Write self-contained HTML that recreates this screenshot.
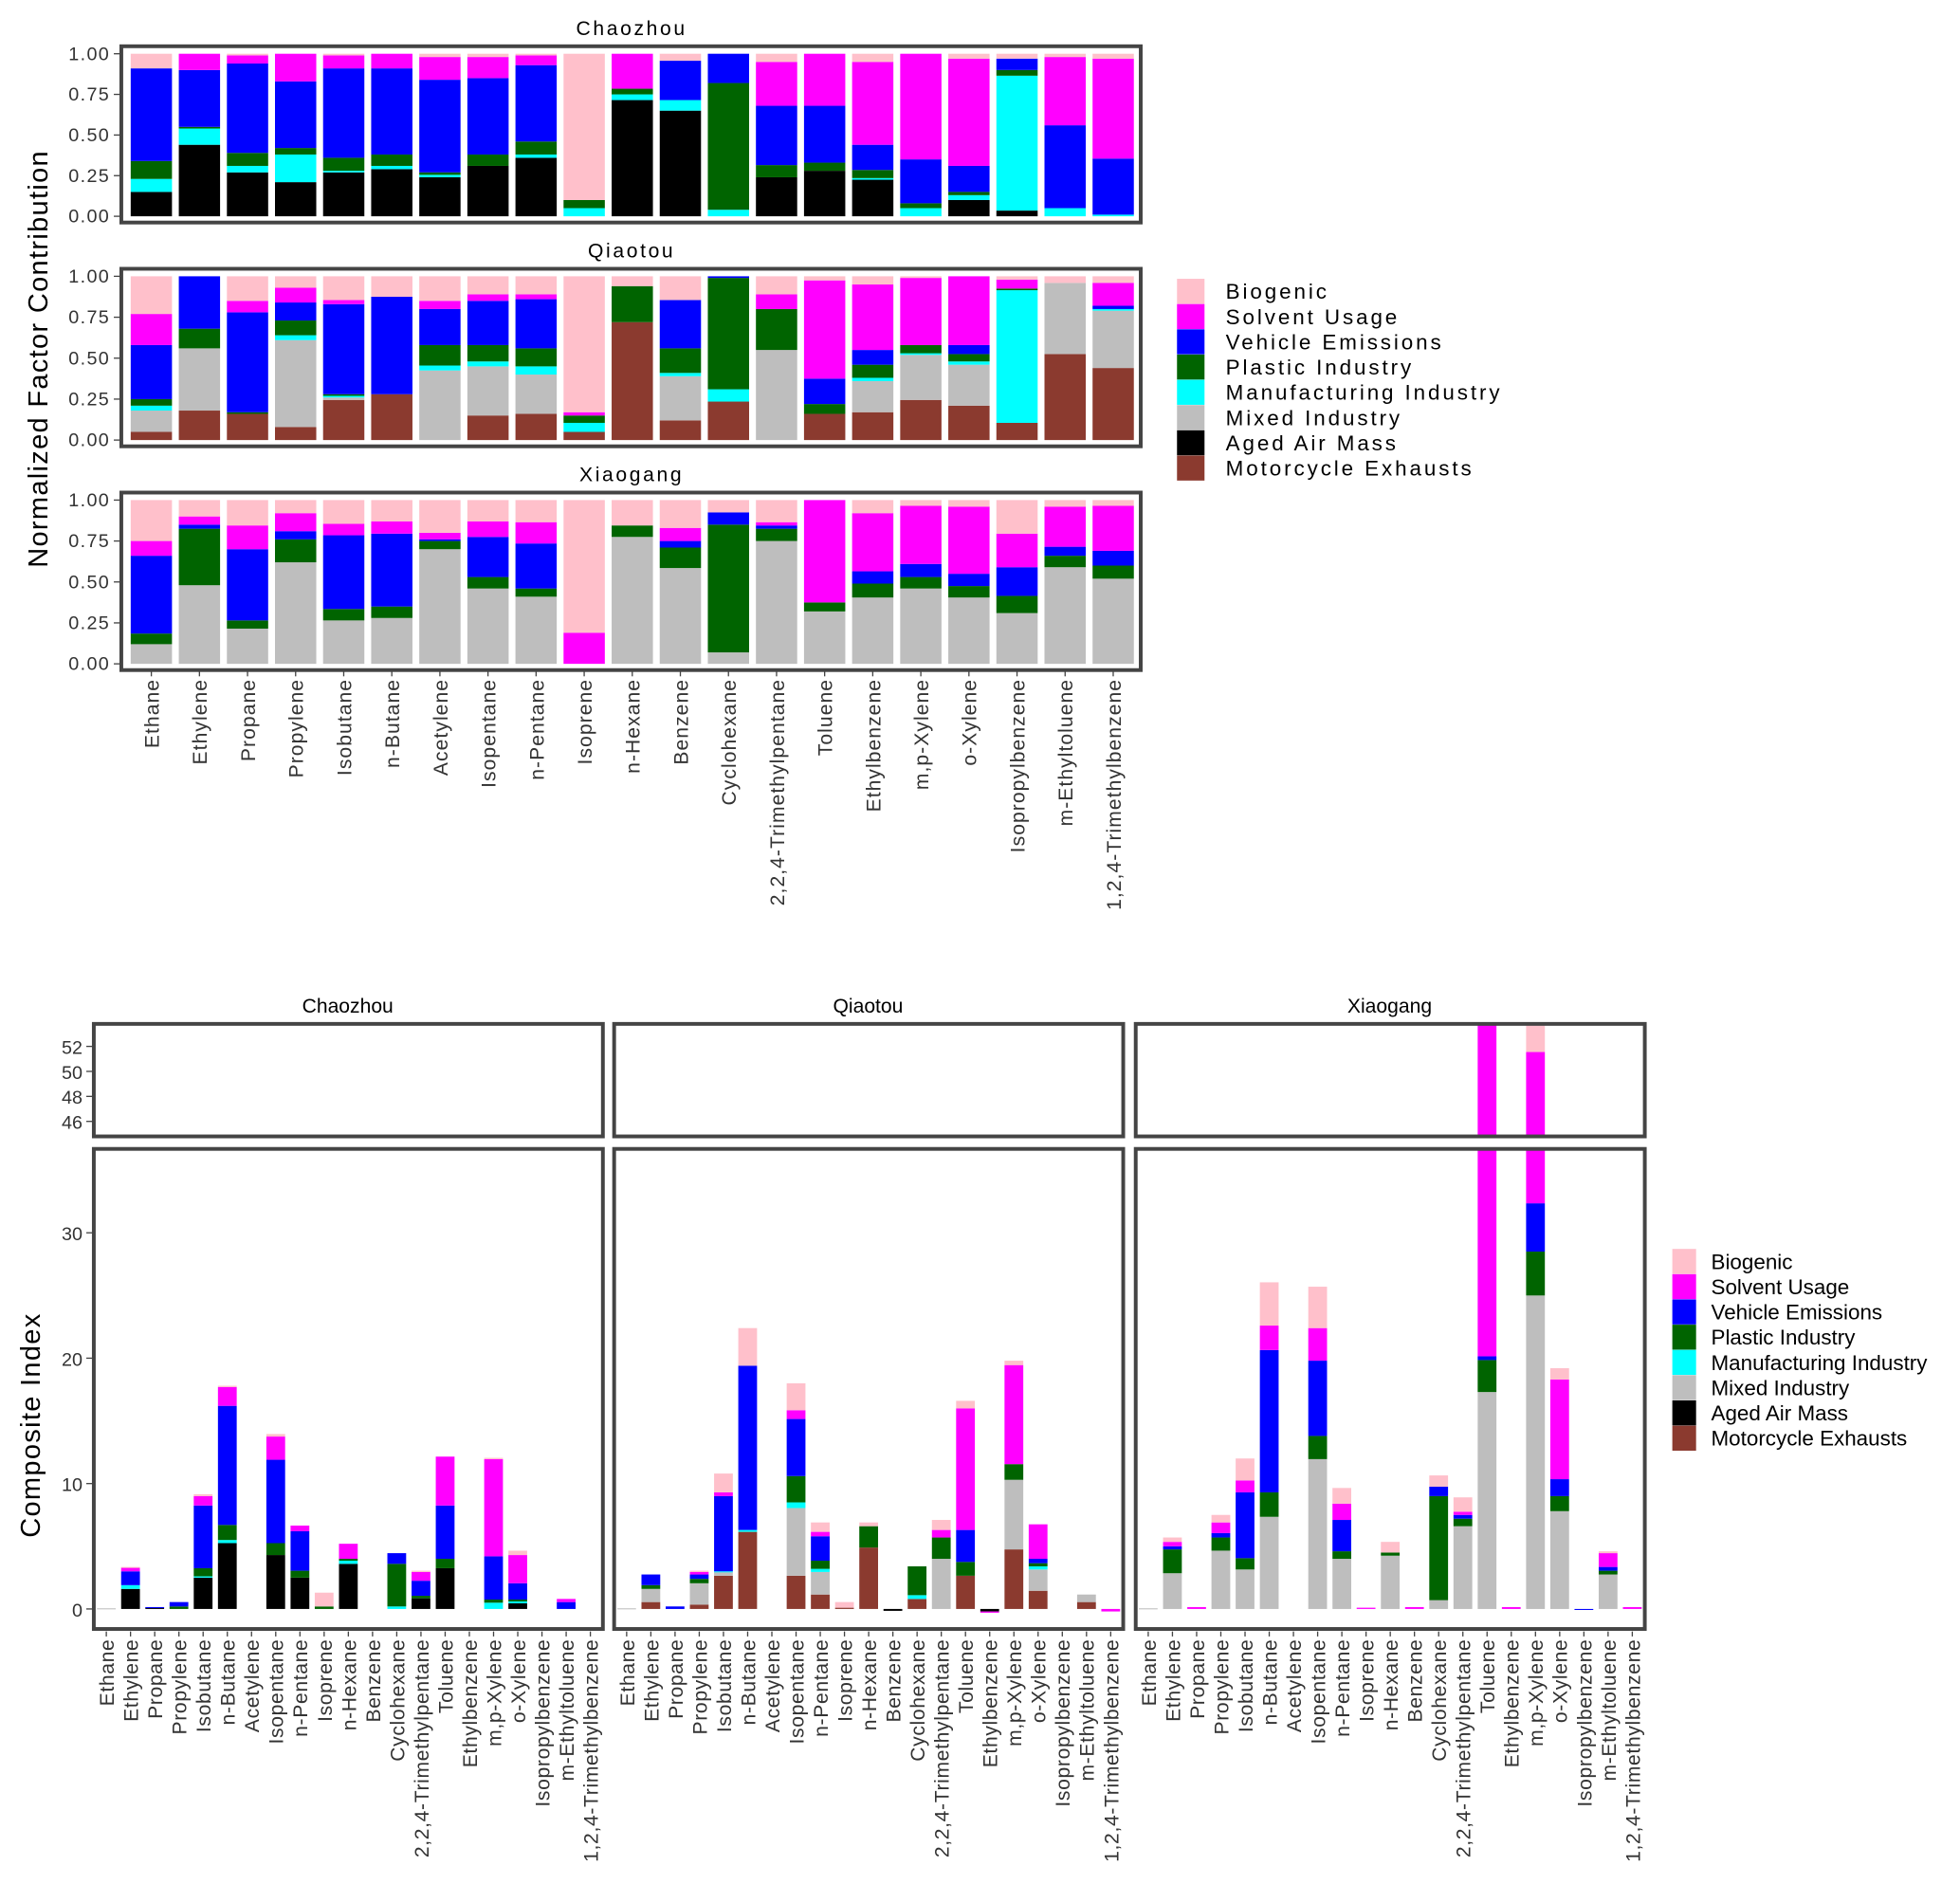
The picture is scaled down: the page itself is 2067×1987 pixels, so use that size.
<!DOCTYPE html>
<html><head><meta charset="utf-8"><style>
html,body{margin:0;padding:0;background:#fff;}
svg{display:block;font-family:"Liberation Sans",sans-serif;}
</style></head><body>
<svg id="chart" width="2067" height="1987" viewBox="0 0 1567 1507" preserveAspectRatio="none" xmlns="http://www.w3.org/2000/svg">
<defs>
<clipPath id="clipLower"><rect x="0" y="918" width="1560" height="386"/></clipPath>
<clipPath id="clipUpper"><rect x="0" y="818" width="1560" height="92"/></clipPath>
</defs>
<rect x="0" y="0" width="1567" height="1507" fill="#fff"/>
<g id="top"></g>
<g id="bottom"></g>
<text x="38" y="287" font-size="22" text-anchor="middle" transform="rotate(-90 38 287)" letter-spacing="1">Normalized Factor Contribution</text>
<text x="32" y="1140" font-size="22" text-anchor="middle" transform="rotate(-90 32 1140)" letter-spacing="1">Composite Index</text>
</svg>
<script>
const categories = ["Ethane","Ethylene","Propane","Propylene","Isobutane","n-Butane","Acetylene","Isopentane","n-Pentane","Isoprene","n-Hexane","Benzene","Cyclohexane","2,2,4-Trimethylpentane","Toluene","Ethylbenzene","m,p-Xylene","o-Xylene","Isopropylbenzene","m-Ethyltoluene","1,2,4-Trimethylbenzene"];
const factors = ["Motorcycle Exhausts","Aged Air Mass","Mixed Industry","Manufacturing Industry","Plastic Industry","Vehicle Emissions","Solvent Usage","Biogenic"];
const factorColors = ["#8b3a2f","#000000","#bebebe","#00ffff","#006400","#0000ff","#ff00ff","#ffc0cb"];
const legendOrder = ["Biogenic","Solvent Usage","Vehicle Emissions","Plastic Industry","Manufacturing Industry","Mixed Industry","Aged Air Mass","Motorcycle Exhausts"];
const Z = new Array(21).fill(0);

// ---- Normalized factor contribution (top chart) ----
const normChaozhouAged = [.15,.44,.27,.21,.27,.29,.24,.31,.36,0,.715,.65,0,.24,.28,.225,0,.10,.035,0,0];
const normChaozhouManuf = [.08,.10,.04,.17,.01,.02,.015,0,.02,.05,.035,.065,.04,0,0,.01,.05,.03,.83,.05,.01];
const normChaozhouPlastic = [.11,.01,.08,.04,.08,.07,.015,.07,.08,.05,.035,0,.78,.075,.05,.05,.03,.02,.035,0,0];
const normChaozhouVehicle = [.57,.35,.55,.41,.55,.53,.57,.47,.47,0,0,.242,.18,.365,.35,.155,.27,.16,.07,.51,.345];
const normChaozhouSolvent = [0,.10,.05,.17,.08,.09,.14,.13,.06,0,.215,0,0,.27,.32,.51,.65,.66,0,.42,.615];
const normChaozhouBiogenic = [.09,0,.01,0,.01,0,.02,.02,.01,.9,0,.043,0,.05,0,.05,0,.03,.03,.02,.03];

const normQiaotouMotor = [.05,.18,.16,.08,.245,.28,0,.15,.16,.05,.72,.12,.235,0,.16,.17,.245,.21,.105,.525,.44];
const normQiaotouMixed = [.13,.38,0,.53,.015,0,.425,.30,.24,0,0,.27,0,.55,0,.19,.275,.25,0,.435,.35];
const normQiaotouManuf = [.03,0,0,.03,.01,0,.03,.03,.05,.055,0,.02,.075,0,0,.02,.01,.02,.81,0,.01];
const normQiaotouPlastic = [.04,.12,.01,.09,.01,0,.125,.10,.11,.045,.22,.15,.68,.25,.06,.08,.05,.045,.01,0,0];
const normQiaotouVehicle = [.33,.32,.61,.11,.55,.595,.22,.27,.30,0,0,.295,.01,0,.155,.09,0,.055,0,0,.02];
const normQiaotouSolvent = [.19,0,.07,.09,.025,0,.05,.04,.03,.02,0,0,0,.09,.60,.40,.41,.42,.055,0,.14];
const normQiaotouBiogenic = [.23,0,.15,.07,.145,.125,.15,.11,.11,.83,.06,.145,0,.11,.025,.05,.01,0,.02,.04,.04];

const normXiaogangMixed = [.12,.48,.215,.62,.265,.28,.70,.46,.41,0,.775,.585,.07,.75,.32,.405,.46,.405,.31,.59,.52];
const normXiaogangPlastic = [.065,.345,.05,.14,.07,.07,.05,.07,.05,0,.07,.125,.78,.075,.055,.085,.07,.07,.105,.07,.08];
const normXiaogangVehicle = [.475,.025,.435,.05,.45,.445,.01,.245,.275,0,0,.04,.075,.02,0,.075,.08,.075,.175,.055,.09];
const normXiaogangSolvent = [.09,.05,.145,.11,.07,.075,.04,.095,.13,.19,0,.08,0,.02,.625,.355,.355,.41,.205,.245,.275];
const normXiaogangBiogenic = [.25,.10,.155,.08,.145,.13,.20,.13,.135,.81,.155,.17,.075,.135,0,.08,.035,.04,.205,.04,.035];

const normTicks = [0,0.25,0.5,0.75,1];
const normTickLabels = ["0.00","0.25","0.50","0.75","1.00"];

// ---- Composite index (bottom chart) ----
const ciChaozhouAged = [0,1.6,.1,0,2.5,5.25,0,4.3,2.5,0,3.6,0,0,.85,3.25,0,0,.45,0,0,0];
const ciChaozhouMixed = [.05,0,0,0,0,0,0,0,0,0,0,0,0,0,0,0,0,0,0,0,0];
const ciChaozhouManuf = [0,.3,0,0,.1,.25,0,0,0,0,.25,0,.2,0,0,0,.5,.15,0,0,0];
const ciChaozhouPlastic = [0,0,0,.2,.65,1.2,0,.95,.55,.2,.15,0,3.4,.2,.75,0,.25,.15,0,0,0];
const ciChaozhouVehicle = [0,1.1,.05,.35,5.0,9.5,0,6.65,3.15,0,0,0,.85,1.2,4.25,0,3.45,1.3,0,.55,0];
const ciChaozhouSolvent = [0,.3,0,0,.75,1.5,0,1.85,.45,0,1.2,0,0,.7,3.9,0,7.75,2.25,0,.25,0];
const ciChaozhouBiogenic = [0,.05,0,0,.15,.1,0,.2,0,1.1,0,0,0,.1,0,0,.1,.35,0,0,0];

const ciQiaotouMotor = [0,.55,0,.35,2.65,6.15,0,2.65,1.15,.1,4.9,0,.8,0,2.65,0,4.75,1.45,0,.55,0];
const ciQiaotouAged = [0,0,0,0,0,0,0,0,0,0,0,-.15,0,0,0,-.2,0,0,0,0,0];
const ciQiaotouMixed = [.05,1.05,0,1.7,.3,0,0,5.4,1.8,0,0,0,0,4.0,0,0,5.55,1.7,0,.6,0];
const ciQiaotouManuf = [0,0,0,0,.05,.15,0,.45,.25,0,0,0,.3,0,0,0,0,.25,0,0,0];
const ciQiaotouPlastic = [0,.3,0,.35,0,0,0,2.1,.65,0,1.7,0,2.3,1.7,1.1,0,1.25,.25,0,0,0];
const ciQiaotouVehicle = [0,.85,.2,.35,6.0,13.1,0,4.55,1.95,0,0,0,0,0,2.55,0,0,.35,0,0,0];
const ciQiaotouSolvent = [0,0,0,.2,.3,0,0,.7,.35,0,0,0,0,.6,9.7,-.1,7.9,2.75,0,0,-.2];
const ciQiaotouBiogenic = [0,0,0,.1,1.5,3.0,0,2.15,.75,.45,.3,0,0,.8,.6,0,.35,0,0,0,0];

const ciXiaogangMixed = [.05,2.85,0,4.65,3.15,7.35,0,11.95,4.0,0,4.25,0,.7,6.6,17.3,0,25.0,7.8,0,2.75,0];
const ciXiaogangPlastic = [0,1.9,0,1.05,.9,1.95,0,1.85,.6,0,.25,0,8.3,.6,2.55,0,3.5,1.2,0,.3,0];
const ciXiaogangVehicle = [0,.25,0,.35,5.25,11.35,0,6.0,2.5,0,0,0,.75,.3,.3,0,3.85,1.35,-.05,.3,0];
const ciXiaogangSolvent = [0,.35,.15,.85,.95,1.95,0,2.6,1.3,.1,0,.15,0,.25,33.75,.15,19.2,7.95,0,1.1,.15];
const ciXiaogangBiogenic = [0,.35,0,.6,1.75,3.45,0,3.3,1.25,0,.85,0,.9,1.15,0,0,2.35,.9,0,.15,0];

const ciLowerTicks = [0,10,20,30];
const ciUpperTicks = [46,48,50,52];

const NS = "http://www.w3.org/2000/svg";
function mk(tag, attrs, parent){const e=document.createElementNS(NS,tag);for(const k in attrs)e.setAttribute(k,attrs[k]);parent.appendChild(e);return e;}

// top chart
const topG = document.getElementById('top');
const topPanels = [
 {name:"Chaozhou", y0:173, y1:43, series:[Z,normChaozhouAged,Z,normChaozhouManuf,normChaozhouPlastic,normChaozhouVehicle,normChaozhouSolvent,normChaozhouBiogenic]},
 {name:"Qiaotou", y0:352, y1:221, series:[normQiaotouMotor,Z,normQiaotouMixed,normQiaotouManuf,normQiaotouPlastic,normQiaotouVehicle,normQiaotouSolvent,normQiaotouBiogenic]},
 {name:"Xiaogang", y0:531, y1:400, series:[Z,Z,normXiaogangMixed,Z,normXiaogangPlastic,normXiaogangVehicle,normXiaogangSolvent,normXiaogangBiogenic]}
];
const tx = i => 121 + i*38.45;
topPanels.forEach(p=>{
  const ys = v => p.y0 + (p.y1-p.y0)*v;
  const t = mk('text',{x:505,y:p.y1-15,'font-size':16,'text-anchor':'middle','letter-spacing':'2'},topG);
  
  
  t.textContent=p.name;
  categories.forEach((c,i)=>{
    let cum=0;
    factors.forEach((f,k)=>{
      const v=p.series[k][i]; if(!v) return;
      const r=mk('rect',{x:tx(i)-16.5,y:ys(cum+v),width:33,height:Math.abs(ys(cum)-ys(cum+v)),fill:factorColors[k]},topG);
      
      
      cum+=v;
    });
  });
  const b=mk('rect',{x:97,y:p.y1-6,width:815,height:p.y0-p.y1+11,fill:'none',stroke:'#444','stroke-width':3},topG);
  
  
  normTicks.forEach((tv,j)=>{
    mk('line',{x1:91,x2:96,y1:ys(tv),y2:ys(tv),stroke:'#444','stroke-width':1},topG);
    const l=mk('text',{x:88,y:ys(tv)+5,'font-size':15,'text-anchor':'end','letter-spacing':'1',fill:'#333'},topG);
    
    
    l.textContent=normTickLabels[j];
  });
});
categories.forEach((c,i)=>{
  mk('line',{x1:tx(i),x2:tx(i),y1:537,y2:541,stroke:'#444'},topG);
  const l=mk('text',{x:0,y:0,'font-size':16,'text-anchor':'end','letter-spacing':'0.8',fill:'#333',transform:`translate(${tx(i)+6},543) rotate(-90)`},topG);
  
  
  l.textContent=c;
});
// top legend
legendOrder.forEach((n,j)=>{
  const k=factors.indexOf(n); const y=233+j*20.2;
  const s=mk('rect',{x:941,y:y-10,width:22,height:20,fill:factorColors[k]},topG);
  
  
  const t=mk('text',{x:980,y:y+6,'font-size':17,'letter-spacing':'2.2'},topG);
  
  
  t.textContent=n;
});

// bottom chart
const botG = document.getElementById('bottom');
const botPanels = [
 {name:"Chaozhou", x0:74, series:[Z,ciChaozhouAged,ciChaozhouMixed,ciChaozhouManuf,ciChaozhouPlastic,ciChaozhouVehicle,ciChaozhouSolvent,ciChaozhouBiogenic]},
 {name:"Qiaotou", x0:490, series:[ciQiaotouMotor,ciQiaotouAged,ciQiaotouMixed,ciQiaotouManuf,ciQiaotouPlastic,ciQiaotouVehicle,ciQiaotouSolvent,ciQiaotouBiogenic]},
 {name:"Xiaogang", x0:907, series:[Z,Z,ciXiaogangMixed,Z,ciXiaogangPlastic,ciXiaogangVehicle,ciXiaogangSolvent,ciXiaogangBiogenic]}
];
const yLow = v => 1287 - v*10.03;
const yUp = v => 837 - (v-52)*10;
botPanels.forEach((p,pi)=>{
  const bx = i => p.x0 + 11 + i*19.35;
  const t = mk('text',{x:p.x0+204,y:810,'font-size':16,'text-anchor':'middle'},botG);
  
  
  t.textContent=p.name;
  const lowG=mk('g',{'clip-path':'url(#clipLower)'},botG);
  const upG=mk('g',{'clip-path':'url(#clipUpper)'},botG);
  categories.forEach((c,i)=>{
    let pos=0, neg=0;
    factors.forEach((f,k)=>{
      const v=p.series[k][i]; if(!v) return;
      let a,b2;
      if(v>0){a=pos;b2=pos+v;pos=b2;} else {a=neg+v;b2=neg;neg=a;}
      [[lowG,yLow],[upG,yUp]].forEach(([g,sc])=>{
        const r=mk('rect',{x:bx(i)-7.5,y:sc(b2),width:15,height:Math.max(sc(a)-sc(b2),0.8),fill:factorColors[k]},g);
        
        
      });
    });
  });
  const b1=mk('rect',{x:p.x0+1,y:819,width:407,height:90,fill:'none',stroke:'#444','stroke-width':3},botG);
  
  
  const b2=mk('rect',{x:p.x0+1,y:919,width:407,height:384,fill:'none',stroke:'#444','stroke-width':3},botG);
  
  
  categories.forEach((c,i)=>{
    mk('line',{x1:bx(i),x2:bx(i),y1:1305,y2:1309,stroke:'#444'},botG);
    const l=mk('text',{x:0,y:0,'font-size':16,'text-anchor':'end','letter-spacing':'0.5',fill:'#333',transform:`translate(${bx(i)+6},1311) rotate(-90)`},botG);
    
    
    l.textContent=c;
  });
  if(pi===0){
    ciLowerTicks.forEach(tv=>{
      mk('line',{x1:69,x2:74,y1:yLow(tv),y2:yLow(tv),stroke:'#444'},botG);
      const l=mk('text',{x:66,y:yLow(tv)+6,'font-size':15,'text-anchor':'end',fill:'#333'},botG);
      
      
      l.textContent=tv;
    });
    ciUpperTicks.forEach(tv=>{
      mk('line',{x1:69,x2:74,y1:yUp(tv),y2:yUp(tv),stroke:'#444'},botG);
      const l=mk('text',{x:66,y:yUp(tv)+6,'font-size':15,'text-anchor':'end',fill:'#333'},botG);
      
      
      l.textContent=tv;
    });
  }
});
legendOrder.forEach((n,j)=>{
  const k=factors.indexOf(n); const y=1009+j*20.2;
  const s=mk('rect',{x:1337,y:y-10,width:19,height:20,fill:factorColors[k]},botG);
  
  
  const t=mk('text',{x:1368,y:y+6,'font-size':17},botG);
  
  
  t.textContent=n;
});
</script>
</body></html>
